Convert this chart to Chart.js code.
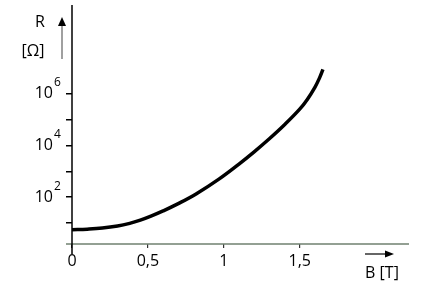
<!DOCTYPE html>
<html>
<head>
<meta charset="utf-8">
<script src="https://cdn.jsdelivr.net/npm/chart.js@4/dist/chart.umd.min.js"></script>
<style>
    html, body { margin: 0; padding: 0; background: #ffffff; }
    #wrap { width: 426px; height: 298px; }
</style>
</head>
<body>
<div id="wrap"><canvas id="chart" width="426" height="298"></canvas></div>
<script>
// magnetic field B [T] and resistance R [Ohm]
const fieldB = [0, 0.1, 0.2, 0.3, 0.38, 0.45, 0.52, 0.6, 0.7, 0.82, 0.97, 1.1, 1.2, 1.3, 1.4, 1.5, 1.55, 1.6, 1.63, 1.653];
const resistance = [5.6, 5.9, 6.5, 7.8, 9.9, 13.2, 18.8, 29.8, 56.8, 137, 511, 1900, 5600, 17800, 61700, 245000, 582000, 1700000, 3840000, 8300000];

const xTicks = [0, 0.5, 1, 1.5];
const yTicks = [1e1, 1e2, 1e3, 1e4, 1e5, 1e6];
const yLabelled = [1e2, 1e4, 1e6];

const fontFamily = "'Open Sans', 'Liberation Sans', sans-serif";
const yTickLength = 6;
const yTickPadding = 13;

const decorations = {
    id: "decorations",
    afterDraw(chart) {
        const ctx = chart.ctx;
        const area = chart.chartArea;
        const yScale = chart.scales.y;
        ctx.save();

        // x axis line (greyish green), reaching a bit left of the y axis
        ctx.strokeStyle = "#6f806f";
        ctx.lineWidth = 1.5;
        ctx.beginPath();
        ctx.moveTo(area.left - 6, area.bottom);
        ctx.lineTo(area.right, area.bottom);
        ctx.stroke();

        // y axis line, reaching a bit below the x axis
        ctx.strokeStyle = "#000000";
        ctx.beginPath();
        ctx.moveTo(area.left, area.top);
        ctx.lineTo(area.left, area.bottom + 10);
        ctx.stroke();

        // exponents of the 10^n labels
        ctx.fillStyle = "#000000";
        ctx.font = "12px " + fontFamily;
        ctx.textAlign = "left";
        ctx.textBaseline = "alphabetic";
        const labelRight = area.left - yTickLength - yTickPadding;
        yLabelled.forEach((v) => {
            const py = yScale.getPixelForValue(v);
            ctx.fillText(String(Math.round(Math.log10(v))), labelRight + 1, py - 7);
        });

        // axis titles
        ctx.font = "16px " + fontFamily;
        ctx.textAlign = "center";
        ctx.textBaseline = "middle";
        ctx.fillText("R", 40, 22);
        ctx.fillText("[\u03A9]", 33, 51);
        ctx.fillText("B [T]", 382, 273);

        // upward arrow next to R
        ctx.strokeStyle = "#808080";
        ctx.lineWidth = 1.5;
        ctx.beginPath();
        ctx.moveTo(62, 59);
        ctx.lineTo(62, 24);
        ctx.stroke();
        ctx.fillStyle = "#000000";
        ctx.beginPath();
        ctx.moveTo(62, 17);
        ctx.lineTo(58, 26);
        ctx.lineTo(66, 26);
        ctx.closePath();
        ctx.fill();

        // rightward arrow above B [T]
        ctx.strokeStyle = "#000000";
        ctx.lineWidth = 1.2;
        ctx.beginPath();
        ctx.moveTo(365, 254);
        ctx.lineTo(388, 254);
        ctx.stroke();
        ctx.beginPath();
        ctx.moveTo(394, 254);
        ctx.lineTo(385, 250.5);
        ctx.lineTo(385, 257.5);
        ctx.closePath();
        ctx.fill();

        ctx.restore();
    },
};

new Chart(document.getElementById("chart").getContext("2d"), {
    type: "line",
    data: {
        datasets: [
            {
                data: fieldB.map((b, i) => ({ x: b, y: resistance[i] })),
                borderColor: "#000000",
                borderWidth: 3.5,
                pointRadius: 0,
                fill: false,
                tension: 0.4,
            },
        ],
    },
    options: {
        responsive: false,
        animation: false,
        layout: {
            padding: { top: 5, right: 17, left: 0, bottom: 0 },
        },
        plugins: {
            legend: { display: false },
            tooltip: { enabled: false },
        },
        scales: {
            x: {
                type: "linear",
                min: 0,
                max: 2.22,
                afterBuildTicks: (scale) => {
                    scale.ticks = xTicks.map((v) => ({ value: v }));
                },
                afterFit: (scale) => {
                    scale.height = 54;
                    scale.paddingLeft = 0;
                    scale.paddingRight = 0;
                },
                border: { display: false },
                grid: {
                    drawOnChartArea: false,
                    drawTicks: true,
                    tickLength: 4,
                    color: "#333333",
                    lineWidth: 1.2,
                },
                ticks: {
                    color: "#000000",
                    padding: 4,
                    maxRotation: 0,
                    autoSkip: false,
                    font: { family: fontFamily, size: 16 },
                    callback: (v) => String(v).replace(".", ","),
                },
            },
            y: {
                type: "logarithmic",
                min: Math.pow(10, 0.2),
                max: Math.pow(10, 9.4),
                afterBuildTicks: (scale) => {
                    scale.ticks = yTicks.map((v) => ({ value: v }));
                },
                afterFit: (scale) => {
                    scale.width = 72;
                    scale.paddingTop = 0;
                    scale.paddingBottom = 0;
                },
                border: { display: false },
                grid: {
                    drawOnChartArea: false,
                    drawTicks: true,
                    tickLength: yTickLength,
                    color: "#000000",
                    lineWidth: 1.5,
                },
                ticks: {
                    color: "#000000",
                    padding: yTickPadding,
                    autoSkip: false,
                    font: { family: fontFamily, size: 16 },
                    callback: (v) => (yLabelled.includes(v) ? "10" : ""),
                },
            },
        },
    },
    plugins: [decorations],
});
</script>
</body>
</html>
